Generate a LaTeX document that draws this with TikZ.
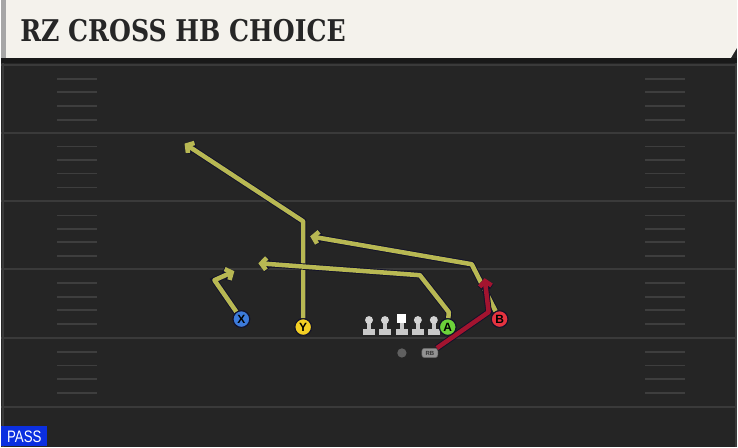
\documentclass[tikz,border=0pt]{standalone}
\usepackage{fontspec}
\setmainfont{DejaVu Serif}
\setsansfont{Liberation Sans}
\usetikzlibrary{arrows.meta}

\definecolor{fieldbg}{HTML}{252525}
\definecolor{fieldline}{HTML}{3A3A3A}
\definecolor{hashline}{HTML}{3E3E3E}
\definecolor{headbg}{HTML}{F4F2EC}
\definecolor{routeyel}{HTML}{B8B853}
\definecolor{routered}{HTML}{A3142F}
\definecolor{routeedge}{HTML}{12122A}
\definecolor{xblue}{HTML}{3C7BDB}
\definecolor{yyellow}{HTML}{F2CF24}
\definecolor{agreen}{HTML}{6CD23A}
\definecolor{bred}{HTML}{E63340}
\definecolor{linegrey}{HTML}{C9C9C9}
\definecolor{passblue}{HTML}{0B2FE0}

\tikzset{
  player/.style={circle, draw=routeedge, line width=0.8pt, minimum size=12.5pt, inner sep=0pt,
    font=\sffamily\bfseries\fontsize{9}{9}\selectfont, text=black},
  route/.style={draw=routeyel, line width=3.4pt, line join=round,
    -{Straight Barb[length=3.8pt,width=9pt]},
    preaction={draw=routeedge, line width=4.8pt}},
  redroute/.style={route, draw=routered},
  hashmark/.style={draw=hashline, line width=1.3pt},
  yardline/.style={draw=fieldline, line width=1.6pt},
}

\begin{document}
\begin{tikzpicture}[x=0.75pt, y=-0.75pt]
    % field
    \path[fill=fieldbg] (0,0) rectangle (738,448);
    \path[fill=black!90] (0,58) rectangle (738,63);
    \draw[draw=fieldline, line width=1pt] (2,63) -- (2,448);
    \draw[draw=fieldline, line width=1pt] (737,63) -- (737,448);
    
    % yard lines
    \foreach \yy in {65,133,202,270,339,408}
      \draw[yardline] (0,\yy) -- (738,\yy);
    
    % hash marks
    \foreach \yy in {65,133,202,270,339} {
      \foreach \dd in {14,27.5,41,55} {
        \draw[hashmark] (56,\yy+\dd) -- (96,\yy+\dd);
        \draw[hashmark] (646,\yy+\dd) -- (686,\yy+\dd);
      }
    }
    
    % header
    \path[fill=headbg] (0,0) -- (738,0) -- (738,48) -- (732,58) -- (0,58) -- cycle;
    \path[fill=gray!70] (0,0) rectangle (5,58);
    \node[anchor=west, inner sep=0pt, text=black!85] (title) at (19,31)
      {\scalebox{0.84}[1]{\fontsize{22.5}{22.5}\selectfont\bfseries RZ CROSS HB CHOICE}};
    
    % play type
    \node[fill=passblue, anchor=south west, inner sep=0pt, minimum width=34.5pt,
      minimum height=15pt, text=white] (playtype) at (0,448)
      {\scalebox{0.8}[1]{\sffamily\fontsize{12.5}{12.5}\selectfont PASS}};
    
    % offensive line
    \foreach \xx in {369,385,418,434} {
      \path[fill=linegrey] (\xx-6,330) rectangle (\xx+6,336);
      \path[fill=linegrey] (\xx-2,322) rectangle (\xx+2,331);
      \path[fill=linegrey!80] (\xx,321) circle (4);
    }
    \path[fill=linegrey] (396,330) rectangle (408,336);
    \path[fill=linegrey] (400,322) rectangle (404,331);
    \path[fill=white] (397.5,315) rectangle (406.5,324);
    
    % backfield
    \node[circle, fill=gray!75!black, minimum size=7pt, inner sep=0pt] (qb) at (402,354) {};
    \node[rounded corners=2pt, fill=gray!85, draw=black!60, minimum width=12pt, minimum height=7pt,
      inner sep=0pt, font=\sffamily\bfseries\fontsize{4.5}{4.5}\selectfont, text=black!80] (rb) at (430,354) {RB};
    
    % route points
    \coordinate (xbreak) at (214,281);
    \coordinate (xend) at (234,272);
    \coordinate (ybreak) at (303,222);
    \coordinate (yend) at (184,144);
    \coordinate (astem) at (449,313);
    \coordinate (abreak) at (420,276);
    \coordinate (aend) at (258,264);
    \coordinate (bbreak) at (472,265);
    \coordinate (bend) at (310,237);
    \coordinate (rbbreak) at (489,313);
    \coordinate (rbend) at (485,279);
    
    % receivers
    \node[player, fill=xblue] (x) at (241,320) {X};
    \node[player, fill=yyellow] (y) at (303,328) {Y};
    \node[player, fill=agreen] (a) at (448,328) {A};
    \node[player, fill=bred] (b) at (500,320) {B};
    
    % routes
    \draw[route] (x) -- (xbreak) -- (xend);
    \draw[route] (y) -- (ybreak) -- (yend);
    \draw[route] (a) -- (astem) -- (abreak) -- (aend);
    \draw[route] (b) -- (bbreak) -- (bend);
    \draw[redroute] (rb) -- (rbbreak) -- (rbend);
    
    % receivers on top of routes
    \node[player, fill=xblue] at (x) {X};
    \node[player, fill=yyellow] at (y) {Y};
    \node[player, fill=agreen] at (a) {A};
    \node[player, fill=bred] at (b) {B};
\end{tikzpicture}
\end{document}
